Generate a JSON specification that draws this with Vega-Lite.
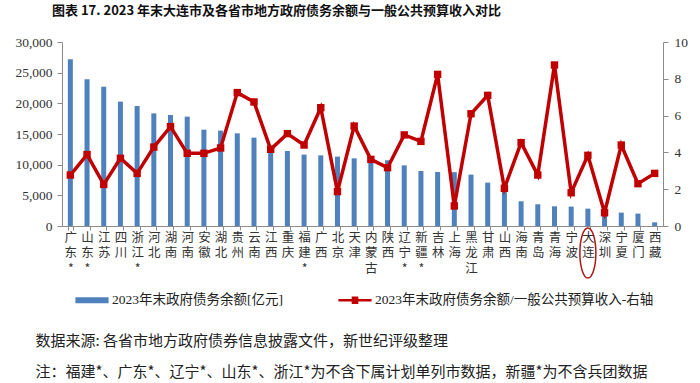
{
  "$schema": "https://vega.github.io/schema/vega-lite/v6.json",
  "width": 601,
  "height": 184,
  "autosize": {"type": "none"},
  "padding": {"left": 62, "top": 42, "right": 37, "bottom": 157},
  "background": "white",
  "title": {
    "text": "图表 17. 2023 年末大连市及各省市地方政府债务余额与一般公共预算收入对比",
    "anchor": "start",
    "frame": "group",
    "dx": -10,
    "offset": 17,
    "fontSize": 13,
    "fontWeight": "bold",
    "font": "Noto Sans CJK SC",
    "color": "#111111"
  },
  "data": {
    "values": [
      {"city": "广东*", "debt": 27180, "ratio": 2.77},
      {"city": "山东*", "debt": 23920, "ratio": 3.88},
      {"city": "江苏", "debt": 22720, "ratio": 2.26},
      {"city": "四川", "debt": 20280, "ratio": 3.68},
      {"city": "浙江*", "debt": 19560, "ratio": 2.86},
      {"city": "河北", "debt": 18370, "ratio": 4.29},
      {"city": "湖南", "debt": 18100, "ratio": 5.40},
      {"city": "河南", "debt": 17830, "ratio": 3.95},
      {"city": "安徽", "debt": 15710, "ratio": 3.95},
      {"city": "湖北", "debt": 15550, "ratio": 4.24},
      {"city": "贵州", "debt": 15110, "ratio": 7.25},
      {"city": "云南", "debt": 14410, "ratio": 6.74},
      {"city": "江西", "debt": 12500, "ratio": 4.17},
      {"city": "重庆", "debt": 12230, "ratio": 5.02},
      {"city": "福建*", "debt": 11640, "ratio": 4.40},
      {"city": "广西", "debt": 11520, "ratio": 6.43},
      {"city": "北京", "debt": 11310, "ratio": 1.87},
      {"city": "天津", "debt": 11030, "ratio": 5.43},
      {"city": "内蒙古", "debt": 10800, "ratio": 3.62},
      {"city": "陕西", "debt": 10720, "ratio": 3.17},
      {"city": "辽宁*", "debt": 9890, "ratio": 4.95},
      {"city": "新疆*", "debt": 8970, "ratio": 4.60},
      {"city": "吉林", "debt": 8800, "ratio": 8.24},
      {"city": "上海", "debt": 8780, "ratio": 1.09},
      {"city": "黑龙江", "debt": 8370, "ratio": 6.10},
      {"city": "甘肃", "debt": 7070, "ratio": 7.10},
      {"city": "山西", "debt": 6300, "ratio": 2.05},
      {"city": "海南", "debt": 4030, "ratio": 4.53},
      {"city": "青岛", "debt": 3540, "ratio": 2.77},
      {"city": "青海", "debt": 3210, "ratio": 8.75},
      {"city": "宁波", "debt": 3160, "ratio": 1.81},
      {"city": "大连", "debt": 2830, "ratio": 3.84},
      {"city": "深圳", "debt": 2500, "ratio": 0.72},
      {"city": "宁夏", "debt": 2180, "ratio": 4.40},
      {"city": "厦门", "debt": 2020, "ratio": 2.30},
      {"city": "西藏", "debt": 600, "ratio": 2.86}
    ]
  },
  "layer": [
    {
      "layer": [
        {
          "mark": {"type": "bar"},
          "encoding": {
            "x": {
              "field": "city",
              "type": "nominal",
              "sort": null,
              "scale": {"paddingInner": 0.7, "paddingOuter": 0.35},
              "axis": {
                "title": [
                  "数据来源: 各省市地方政府债券信息披露文件，新世纪评级整理",
                  "注：福建*、广东*、辽宁*、山东*、浙江*为不含下属计划单列市数据，新疆*为不含兵团数据"
                ],
                "titleX": -27,
                "titleY": 107,
                "titleAnchor": "start",
                "titleAlign": "left",
                "titleBaseline": "top",
                "titleLineHeight": 31,
                "titleFontSize": 15,
                "titleFont": "Noto Sans CJK SC",
                "titleFontWeight": "normal",
                "titleColor": "#222222",
                "labelAngle": 0,
                "labelExpr": "split(datum.label, '')",
                "labelFont": "Noto Sans CJK SC",
                "labelFontSize": 12.5,
                "labelLineHeight": 15.5,
                "labelBaseline": "top",
                "labelPadding": 1,
                "labelColor": "#333333",
                "labelOverlap": false,
                "tickBand": "extent",
                "tickSize": 4,
                "tickColor": "#8c8c8c",
                "domainColor": "#8c8c8c"
              }
            },
            "y": {
              "field": "debt",
              "type": "quantitative",
              "scale": {"domain": [0, 30000]},
              "axis": {
                "title": null,
                "values": [0, 5000, 10000, 15000, 20000, 25000, 30000],
                "format": ",.0f",
                "labelFont": "Liberation Serif",
                "labelFontSize": 13.5,
                "labelColor": "#333333",
                "labelPadding": 5,
                "tickSize": 5,
                "tickColor": "#8c8c8c",
                "domainColor": "#8c8c8c",
                "grid": false
              }
            },
            "color": {
              "datum": "2023年末政府债务余额[亿元]",
              "scale": {
                "domain": ["2023年末政府债务余额[亿元]", "2023年末政府债务余额/一般公共预算收入-右轴"],
                "range": ["#4F81BD", "#C00000"]
              },
              "legend": {
                "orient": "none",
                "legendX": 13,
                "legendY": 241,
                "direction": "horizontal",
                "title": null,
                "symbolSize": 1100,
                "columnPadding": 55,
                "labelOffset": 3,
                "labelFont": "Liberation Serif, Noto Sans CJK SC",
                "labelFontSize": 13.5,
                "labelColor": "#222222",
                "labelLimit": 400,
                "encode": {
                  "symbols": {
                    "update": {
                      "shape": {"signal": "datum.value === '2023年末政府债务余额[亿元]' ? 'M-1,-0.18H1V0.18H-1Z' : 'M-1,-0.08H-0.2V-0.22H0.2V-0.08H1V0.08H0.2V0.22H-0.2V0.08H-1Z'"},
                      "fill": {"signal": "datum.value === '2023年末政府债务余额[亿元]' ? '#4F81BD' : '#C00000'"},
                      "stroke": {"value": "transparent"},
                      "strokeWidth": {"value": 0},
                      "opacity": {"value": 1},
                      "fillOpacity": {"value": 1}
                    }
                  }
                }
              }
            }
          }
        },
        {
          "transform": [{"filter": "datum.city === '大连'"}],
          "mark": {
            "type": "point",
            "shape": "M0,-1A0.32,1 0 1,1 0,1A0.32,1 0 1,1 0,-1Z",
            "size": 2500,
            "filled": false,
            "stroke": "#B01818",
            "strokeWidth": 1.5,
            "opacity": 1
          },
          "encoding": {
            "x": {"field": "city", "type": "nominal", "sort": null},
            "y": {
              "datum": -4400,
              "type": "quantitative",
              "axis": {
                "title": null,
                "values": [0, 5000, 10000, 15000, 20000, 25000, 30000],
                "format": ",.0f",
                "labelFont": "Liberation Serif",
                "labelFontSize": 13.5,
                "labelColor": "#333333",
                "labelPadding": 5,
                "tickSize": 5,
                "tickColor": "#8c8c8c",
                "domainColor": "#8c8c8c",
                "grid": false
              }
            }
          }
        }
      ]
    },
    {
      "mark": {
        "type": "line",
        "strokeWidth": 3.5,
        "point": {"shape": "square", "size": 55, "filled": true, "opacity": 1}
      },
      "encoding": {
        "x": {"field": "city", "type": "nominal", "sort": null},
        "y": {
          "field": "ratio",
          "type": "quantitative",
          "scale": {"domain": [0, 10]},
          "axis": {
            "orient": "right",
            "title": null,
            "values": [0, 2, 4, 6, 8, 10],
            "format": "d",
            "labelFont": "Liberation Serif",
            "labelFontSize": 13.5,
            "labelColor": "#333333",
            "labelPadding": 6,
            "tickSize": 5,
            "tickColor": "#8c8c8c",
            "domainColor": "#8c8c8c",
            "grid": false
          }
        },
        "color": {"datum": "2023年末政府债务余额/一般公共预算收入-右轴"}
      }
    }
  ],
  "resolve": {"scale": {"y": "independent"}},
  "config": {
    "view": {"stroke": null},
    "axis": {"grid": false}
  }
}
